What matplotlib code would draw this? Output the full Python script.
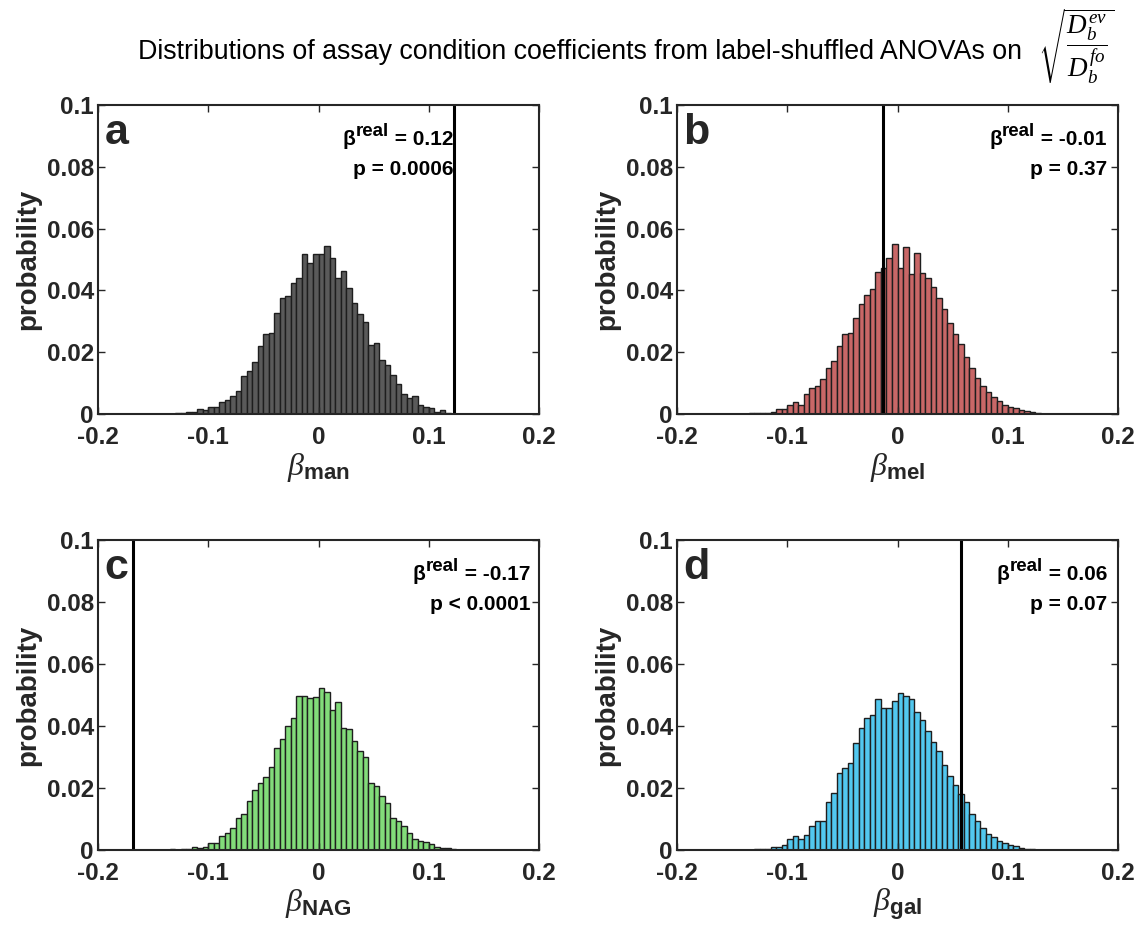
import numpy as np
import matplotlib
matplotlib.use("Agg")
import matplotlib.pyplot as plt

plt.rcParams['font.family'] = ['Liberation Sans', 'DejaVu Sans']
plt.rcParams['mathtext.fontset'] = 'custom'
plt.rcParams['mathtext.rm'] = 'Liberation Sans:bold'
plt.rcParams['mathtext.bf'] = 'Liberation Sans:bold'
plt.rcParams['mathtext.it'] = 'Liberation Serif:italic'

# ---------------- data ----------------
bin_width = 0.005
bin_left = np.round(np.arange(-0.145, 0.1425, bin_width), 4)   # 58 bins

prob_man = [0.0000, 0.0001, 0.0001, 0.0002, 0.0003, 0.0008, 0.0005, 0.0016, 0.0013, 0.0024,
            0.0024, 0.0038, 0.0045, 0.0059, 0.0076, 0.0123, 0.0140, 0.0167, 0.0220, 0.0258,
            0.0263, 0.0326, 0.0376, 0.0382, 0.0423, 0.0441, 0.0518, 0.0488, 0.0518, 0.0518,
            0.0544, 0.0504, 0.0441, 0.0463, 0.0407, 0.0360, 0.0324, 0.0297, 0.0223, 0.0229,
            0.0175, 0.0159, 0.0126, 0.0097, 0.0064, 0.0053, 0.0058, 0.0029, 0.0024, 0.0018,
            0.0008, 0.0012, 0.0003, 0.0001, 0.0001, 0.0000, 0.0000, 0.0000]

prob_mel = [0.0000, 0.0001, 0.0002, 0.0002, 0.0003, 0.0003, 0.0006, 0.0016, 0.0016, 0.0029,
            0.0038, 0.0029, 0.0064, 0.0085, 0.0091, 0.0113, 0.0148, 0.0173, 0.0220, 0.0258,
            0.0261, 0.0310, 0.0356, 0.0385, 0.0403, 0.0461, 0.0471, 0.0504, 0.0550, 0.0474,
            0.0539, 0.0453, 0.0520, 0.0455, 0.0440, 0.0410, 0.0375, 0.0340, 0.0295, 0.0260,
            0.0225, 0.0185, 0.0150, 0.0118, 0.0092, 0.0072, 0.0055, 0.0042, 0.0030, 0.0023,
            0.0018, 0.0012, 0.0009, 0.0006, 0.0003, 0.0001, 0.0000, 0.0000]

prob_nag = [0.0001, 0.0001, 0.0002, 0.0001, 0.0002, 0.0002, 0.0011, 0.0008, 0.0011, 0.0024,
            0.0024, 0.0045, 0.0054, 0.0070, 0.0104, 0.0116, 0.0158, 0.0194, 0.0217, 0.0234,
            0.0269, 0.0328, 0.0358, 0.0400, 0.0425, 0.0498, 0.0498, 0.0489, 0.0492, 0.0524,
            0.0511, 0.0452, 0.0476, 0.0395, 0.0390, 0.0352, 0.0320, 0.0299, 0.0215, 0.0206,
            0.0175, 0.0153, 0.0104, 0.0095, 0.0078, 0.0056, 0.0034, 0.0030, 0.0027, 0.0019,
            0.0011, 0.0005, 0.0005, 0.0002, 0.0001, 0.0001, 0.0001, 0.0001]

prob_gal = [0.0000, 0.0001, 0.0001, 0.0002, 0.0002, 0.0003, 0.0011, 0.0010, 0.0016, 0.0035,
            0.0045, 0.0035, 0.0048, 0.0078, 0.0095, 0.0095, 0.0154, 0.0185, 0.0247, 0.0266,
            0.0282, 0.0346, 0.0392, 0.0425, 0.0435, 0.0486, 0.0457, 0.0459, 0.0480, 0.0505,
            0.0498, 0.0486, 0.0445, 0.0420, 0.0385, 0.0350, 0.0320, 0.0275, 0.0240, 0.0210,
            0.0180, 0.0155, 0.0115, 0.0092, 0.0072, 0.0052, 0.0042, 0.0030, 0.0021, 0.0016,
            0.0012, 0.0008, 0.0004, 0.0002, 0.0001, 0.0000, 0.0000, 0.0000]

beta_real = [0.1225, -0.0132, -0.168, 0.058]
beta_text = ['0.12', '-0.01', '-0.17', '0.06']
p_text = ['p = 0.0006', 'p = 0.37', 'p < 0.0001', 'p = 0.07']
panel_letters = ['a', 'b', 'c', 'd']
subscripts = ['man', 'mel', 'NAG', 'gal']
colors = ['#5a5a5a', '#c96767', '#82dc7a', '#52c8ef']
x_ticks = [-0.2, -0.1, 0, 0.1, 0.2]
x_ticklabels = ['-0.2', '-0.1', '0', '0.1', '0.2']
y_ticks = [0, 0.02, 0.04, 0.06, 0.08, 0.1]
y_ticklabels = ['0', '0.02', '0.04', '0.06', '0.08', '0.1']

all_probs = [prob_man, prob_mel, prob_nag, prob_gal]

# ---------------- figure ----------------
W, H = 1140, 934
fig = plt.figure(figsize=(W / 100, H / 100), dpi=100)

def px_axes(l, t, r, b):
    return fig.add_axes([l / W, 1 - b / H, (r - l) / W, (b - t) / H])

boxes = [(98, 105, 539, 414), (677, 105, 1118, 414),
         (98, 540, 539, 850), (677, 540, 1118, 850)]
text_x = [0.805, 0.975, 0.98, 0.975]
ink = '#262626'
ann_size = 15

for i, box in enumerate(boxes):
    ax = px_axes(*box)
    ax.bar(bin_left, all_probs[i], width=bin_width, align='edge',
           color=colors[i], edgecolor='#1e1e1e', linewidth=1.0)
    ax.axvline(beta_real[i], color='black', linewidth=2.2)
    ax.set_xlim(-0.2, 0.2)
    ax.set_ylim(0, 0.1)
    ax.set_xticks(x_ticks)
    ax.set_xticklabels(x_ticklabels)
    ax.set_yticks(y_ticks)
    ax.set_yticklabels(y_ticklabels)
    ax.tick_params(direction='in', top=True, right=True, length=5, width=1.0,
                   labelsize=17.5, colors=ink)
    ax.tick_params(axis='x', pad=9)
    ax.tick_params(axis='y', pad=3)
    for lab in ax.get_xticklabels() + ax.get_yticklabels():
        lab.set_fontweight('bold')
    for sp in ax.spines.values():
        sp.set_linewidth(1.5)
        sp.set_color(ink)
    ax.set_ylabel('probability', fontsize=20, fontweight='bold', color=ink, labelpad=4)
    ax.set_xlabel(r'$\beta_{\mathbf{%s}}$' % subscripts[i], fontsize=23, color=ink, labelpad=1)
    ax.text(0.015, 0.91, panel_letters[i], transform=ax.transAxes, fontsize=31,
            fontweight='bold', color=ink, ha='left', va='center')
    # beta^real = value, built from three pieces so the superscript is larger
    t_val = ax.text(text_x[i], 0.872, ' = ' + beta_text[i], transform=ax.transAxes,
                    fontsize=ann_size, fontweight='bold', color='black',
                    ha='right', va='baseline')
    t_sup = ax.annotate('real', xy=(0, 0), xycoords=t_val, xytext=(0, 6.5),
                        textcoords='offset points', fontsize=13.5, fontweight='bold',
                        color='black', ha='right', va='bottom')
    ax.annotate('β', xy=(0, 0), xycoords=t_sup, xytext=(0, -6.5),
                textcoords='offset points', fontsize=ann_size, fontweight='bold',
                color='black', ha='right', va='bottom')
    ax.text(text_x[i], 0.775, p_text[i], transform=ax.transAxes, fontsize=ann_size,
            fontweight='bold', color='black', ha='right', va='baseline')

fig.text(1022 / W, 1 - 52 / H,
         'Distributions of assay condition coefficients from label-shuffled ANOVAs on',
         fontsize=19.3, ha='right', va='center', color='black')
fig.text(1038 / W, 1 - 46 / H, r'$\sqrt{\dfrac{D_b^{ev}}{D_b^{fo}}}$',
         fontsize=19.5, ha='left', va='center', color='black')

fig.savefig('out.png', dpi=100)
